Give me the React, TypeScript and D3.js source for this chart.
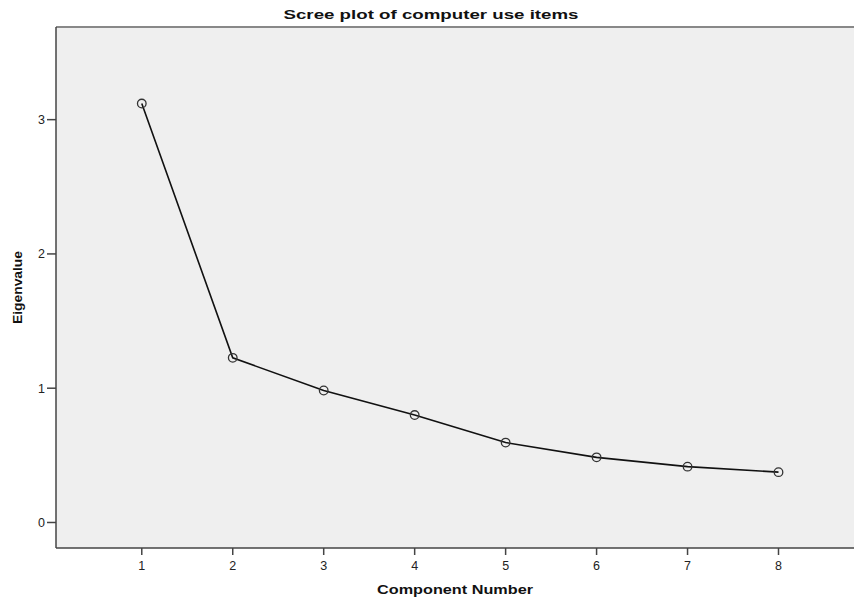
import React from "react"
import * as d3 from "d3"

const components = [1, 2, 3, 4, 5, 6, 7, 8]
const eigenvalues = [3.12, 1.226, 0.983, 0.8, 0.595, 0.485, 0.416, 0.375]
const yTicks = [0, 1, 2, 3]

const width = 854
const height = 601
const margin = {top: 27, right: 0, bottom: 53, left: 56}

const App = () => {
    const innerW = width - margin.left - margin.right
    const innerH = height - margin.top - margin.bottom

    const x = d3.scaleLinear()
        .domain([0.057, 8.83])
        .range([0, innerW])

    const y = d3.scaleLinear()
        .domain([-0.19, 3.69])
        .range([innerH, 0])

    const line = d3.line<number>()
        .x((d, i) => x(components[i]))
        .y(d => y(d))

    const font = "'Liberation Sans', Arial, sans-serif"

    return (
        <svg width={width} height={height}
            style={{position: "absolute", left: 0, top: 0, background: "#fff"}}
            fontFamily={font}>
            <text x={431} y={19} textAnchor="middle" fontWeight="bold" fontSize={13.5}
                textLength={295} lengthAdjust="spacingAndGlyphs" fill="#111">
                Scree plot of computer use items
            </text>
            <g transform={`translate(${margin.left},${margin.top})`}>
                <rect x={0} y={0} width={innerW} height={innerH} fill="#efefef" />
                <line x1={0} x2={innerW} y1={0} y2={0} stroke="#888" strokeWidth={2} />
                <line x1={0} x2={0} y1={0} y2={innerH} stroke="#444" strokeWidth={1.5} />
                <line x1={0} x2={innerW} y1={innerH} y2={innerH} stroke="#444" strokeWidth={1.5} />
                {yTicks.map(t => (
                    <g key={t} transform={`translate(0,${y(t)})`}>
                        <line x1={-9} x2={0} stroke="#444" strokeWidth={1.5} />
                        <text x={-11} dy="0.35em" textAnchor="end" fontSize={12.5} fill="#222">{t}</text>
                    </g>
                ))}
                {components.map(c => (
                    <g key={c} transform={`translate(${x(c)},${innerH})`}>
                        <line y1={0} y2={7} stroke="#444" strokeWidth={1.5} />
                        <text y={22} textAnchor="middle" fontSize={12.5} fill="#222">{c}</text>
                    </g>
                ))}
                <path d={line(eigenvalues) || ""} fill="none" stroke="#111" strokeWidth={1.6} />
                {eigenvalues.map((v, i) => (
                    <circle key={i} cx={x(components[i])} cy={y(v)} r={4.3}
                        fill="none" stroke="#333" strokeWidth={1.3} />
                ))}
            </g>
            <text x={455} y={594} textAnchor="middle" fontWeight="bold" fontSize={13}
                textLength={156} lengthAdjust="spacingAndGlyphs" fill="#111">
                Component Number
            </text>
            <text transform={`translate(22,${margin.top + innerH / 2}) rotate(-90)`}
                textAnchor="middle" fontWeight="bold" fontSize={13}
                textLength={73} lengthAdjust="spacingAndGlyphs" fill="#111">
                Eigenvalue
            </text>
        </svg>
    )
}

export default App
